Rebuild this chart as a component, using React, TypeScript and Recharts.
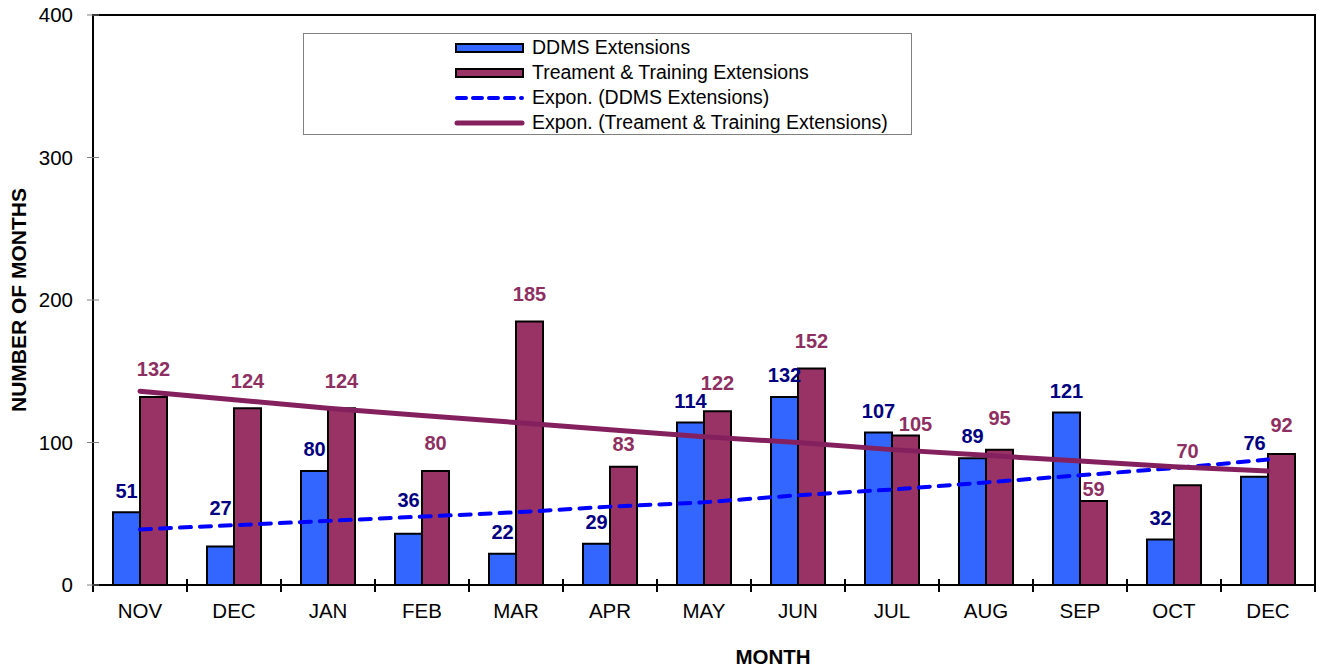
import {
  ComposedChart,
  Bar,
  Line,
  XAxis,
  YAxis,
  Legend,
  LabelList,
  ReferenceArea,
} from 'recharts'

const months = ['NOV', 'DEC', 'JAN', 'FEB', 'MAR', 'APR', 'MAY', 'JUN', 'JUL', 'AUG', 'SEP', 'OCT', 'DEC']
const ddmsExtensions = [51, 27, 80, 36, 22, 29, 114, 132, 107, 89, 121, 32, 76]
const trainingExtensions = [132, 124, 124, 80, 185, 83, 122, 152, 105, 95, 59, 70, 92]
// exponential trend lines
const ddmsTrend = [39, 42, 45, 48, 51, 55, 58, 63, 67, 72, 77, 82, 88]
const trainingTrend = [136, 130, 124, 119, 114, 109, 104, 100, 95, 91, 87, 83, 80]
const yTicks = [0, 100, 200, 300, 400]

const chartData = months.map((m, i) => ({
  month: m,
  ddms: ddmsExtensions[i],
  training: trainingExtensions[i],
  ddmsTrend: ddmsTrend[i],
  trainingTrend: trainingTrend[i],
}))

const FONT = 'Arial, "Liberation Sans", sans-serif'
const BLUE = '#3366FF'
const PLUM = '#993366'
const TREND_PLUM = '#85205F'
const PLOT_W = 1222
const BAND = PLOT_W / months.length
const BLUE_LIFT = 22
const PLUM_LIFT = 28

function MonthTick(props: any) {
  const { x, y, payload, index } = props
  const left = x - BAND / 2
  const right = x + BAND / 2
  return (
    <g>
      <line x1={left} x2={left} y1={y - 6} y2={y + 7} stroke="#000" strokeWidth={2} />
      {index === months.length - 1 && (
        <line x1={right} x2={right} y1={y - 6} y2={y + 7} stroke="#000" strokeWidth={2} />
      )}
      <text x={x} y={y + 33} textAnchor="middle" fontSize={20.5} fontFamily={FONT} fill="#000">
        {payload.value}
      </text>
    </g>
  )
}

function ValueTick(props: any) {
  const { x, y, payload } = props
  return (
    <g>
      <line x1={x - 6} x2={x + 6} y1={y} y2={y} stroke="#808080" strokeWidth={1} />
      <text x={x - 20} y={y} dy="0.36em" textAnchor="end" fontSize={20.5} fontFamily={FONT} fill="#000">
        {payload.value}
      </text>
    </g>
  )
}

// label centre above a bar, moved off the trend lines when it would sit on one
function labelCentre(top: number, bottom: number, k: number, index: number, lift: number) {
  const lines = [ddmsTrend[index], trainingTrend[index]].map((t) => bottom - t * k)
  let c = top - lift
  for (const ty of lines) {
    if (Math.abs(ty - c) < 13) {
      const below = ty + 14
      c = below + 9 < top - 1 ? below : ty - 17
    }
  }
  for (const ty of lines) {
    if (Math.abs(ty - c) < 13) c = ty - 17
  }
  return c
}

function makeLabel(color: string, lift: number, isPlum: boolean) {
  return (props: any) => {
    const { x, y, width, height, value, index } = props
    const bottom = y + height
    const k = value ? height / value : 0
    let c = labelCentre(y, bottom, k, index, lift)
    let dx = 0
    if (isPlum) {
      // keep clear of the neighbouring blue label
      const blueValue = ddmsExtensions[index]
      const blueTop = bottom - blueValue * k
      const blueC = labelCentre(blueTop, bottom, k, index, BLUE_LIFT)
      if (Math.abs(blueC - c) < 17) {
        if (value >= blueValue) {
          c = blueC - 18
        } else {
          c = Math.min(y - 12, blueC + 14)
          dx = 10
        }
      }
    }
    return (
      <text
        x={x + width / 2 + dx}
        y={c}
        dy="0.36em"
        textAnchor="middle"
        fontSize={20}
        fontWeight="bold"
        fontFamily={FONT}
        fill={color}
      >
        {value}
      </text>
    )
  }
}

const legendRows = [
  { label: 'DDMS Extensions', kind: 'bar', color: BLUE },
  { label: 'Treament & Training Extensions', kind: 'bar', color: PLUM },
  { label: 'Expon. (DDMS Extensions)', kind: 'dash', color: '#0000FF' },
  { label: 'Expon. (Treament & Training Extensions)', kind: 'line', color: TREND_PLUM },
]

function TrendLegend() {
  return (
    <div
      style={{
        width: 609,
        height: 102,
        boxSizing: 'border-box',
        border: '1px solid #808080',
        background: '#fff',
        fontFamily: FONT,
        fontSize: 19.5,
        paddingTop: 1,
      }}
    >
      {legendRows.map((r) => (
        <div key={r.label} style={{ display: 'flex', alignItems: 'center', height: 25 }}>
          <svg width={72} height={14} style={{ marginLeft: 150, marginRight: 6 }}>
            {r.kind === 'bar' && (
              <rect x={2} y={3} width={67} height={8} fill={r.color} stroke="#000" strokeWidth={2} />
            )}
            {r.kind === 'dash' && (
              <line x1={3} x2={68} y1={7} y2={7} stroke={r.color} strokeWidth={4} strokeDasharray="9 7" strokeLinecap="round" />
            )}
            {r.kind === 'line' && (
              <line x1={3} x2={68} y1={7} y2={7} stroke={r.color} strokeWidth={5} strokeLinecap="round" />
            )}
          </svg>
          <span style={{ color: '#000', whiteSpace: 'nowrap' }}>{r.label}</span>
        </div>
      ))}
    </div>
  )
}

export default function App() {
  return (
    <div style={{ position: 'relative', width: 1320, height: 670, background: '#fff', fontFamily: FONT }}>
      <style>{'body{margin:0}'}</style>
      <ComposedChart
        width={1320}
        height={670}
        data={chartData}
        margin={{ top: 15, right: 5, bottom: 45, left: 33 }}
        barCategoryGap={20}
        barGap={0}
      >
        <XAxis
          dataKey="month"
          height={40}
          axisLine={{ stroke: '#000', strokeWidth: 2 }}
          tickLine={false}
          tickSize={0}
          tickMargin={0}
          interval={0}
          tick={<MonthTick />}
        />
        <YAxis
          width={60}
          domain={[0, 400]}
          ticks={yTicks}
          allowDataOverflow
          axisLine={{ stroke: '#000', strokeWidth: 2 }}
          tickLine={false}
          tickSize={0}
          tickMargin={0}
          tick={<ValueTick />}
        />
        <ReferenceArea y1={0} y2={400} fill="none" stroke="#000" strokeWidth={2} ifOverflow="visible" />
        <Legend
          verticalAlign="middle"
          align="center"
          layout="horizontal"
          wrapperStyle={{ left: 303, top: 33, width: 609, height: 102 }}
          content={() => <TrendLegend />}
        />
        <Bar dataKey="ddms" fill={BLUE} stroke="#000" strokeWidth={2} isAnimationActive={false}>
          <LabelList dataKey="ddms" content={makeLabel('#000080', BLUE_LIFT, false)} />
        </Bar>
        <Bar dataKey="training" fill={PLUM} stroke="#000" strokeWidth={2} isAnimationActive={false}>
          <LabelList dataKey="training" content={makeLabel('#8E2F62', PLUM_LIFT, true)} />
        </Bar>
        <Line
          type="linear"
          dataKey="ddmsTrend"
          stroke="#0000FF"
          strokeWidth={4}
          strokeDasharray="11 9"
          strokeLinecap="round"
          dot={false}
          activeDot={false}
          isAnimationActive={false}
        />
        <Line
          type="linear"
          dataKey="trainingTrend"
          stroke={TREND_PLUM}
          strokeWidth={5}
          strokeLinecap="round"
          dot={false}
          activeDot={false}
          isAnimationActive={false}
        />
      </ComposedChart>
      <div
        style={{
          position: 'absolute',
          left: 19,
          top: 300,
          transform: 'translate(-50%, -50%) rotate(-90deg)',
          fontSize: 21,
          fontWeight: 'bold',
          whiteSpace: 'nowrap',
          color: '#000',
        }}
      >
        NUMBER OF MONTHS
      </div>
      <div
        style={{
          position: 'absolute',
          left: 773,
          top: 657,
          transform: 'translate(-50%, -50%)',
          fontSize: 20.5,
          fontWeight: 'bold',
          color: '#000',
        }}
      >
        MONTH
      </div>
    </div>
  )
}
